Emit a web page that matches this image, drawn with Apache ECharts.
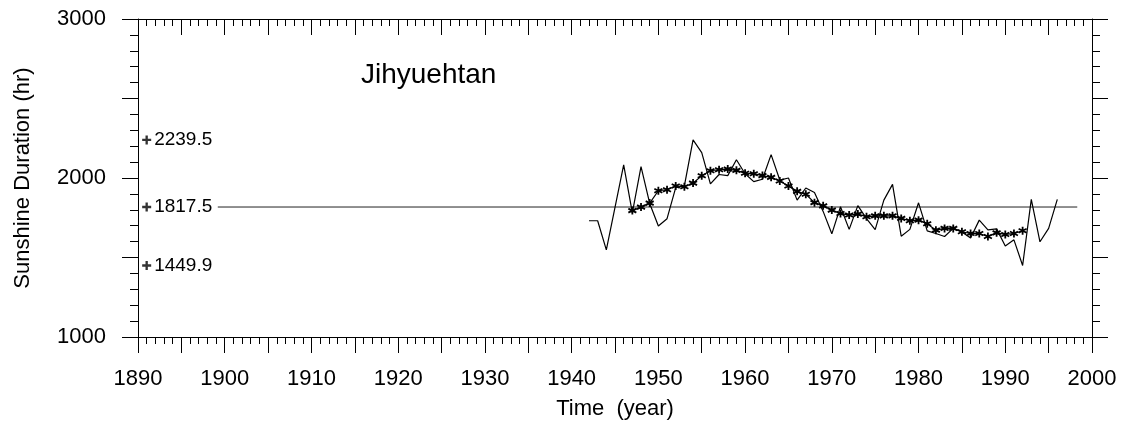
<!DOCTYPE html>
<html>
<head>
<meta charset="utf-8">
<script src="https://cdn.jsdelivr.net/npm/echarts@6/dist/echarts.min.js"></script>
<style>
html,body{margin:0;padding:0;background:#fff;}
#chart{width:1121px;height:428px;}
</style>
</head>
<body>
<div id="chart"></div>
<script>
// ---- data ----
const titleText = "Jihyuehtan";
const rawYears = [1942,1943,1944,1945,1946,1947,1948,1949,1950,1951,1952,1953,1954,1955,1956,1957,1958,1959,1960,1961,1962,1963,1964,1965,1966,1967,1968,1969,1970,1971,1972,1973,1974,1975,1976,1977,1978,1979,1980,1981,1982,1983,1984,1985,1986,1987,1988,1989,1990,1991,1992,1993,1994,1995,1996];
const rawValues = [1731,1731,1548,1815,2082,1780,2071,1840,1698,1744,1940,1950,2239.5,2160,1963,2022,2015,2115,2027,1977,1992,2147,1987,2000,1861,1937,1909,1790,1649,1819,1677,1826,1745,1675,1861,1960,1634,1677,1844,1667,1651,1632,1683,1660,1623,1735,1674,1680,1572,1611,1449.9,1866,1599,1683,1866];
const smoothYears = [1947,1948,1949,1950,1951,1952,1953,1954,1955,1956,1957,1958,1959,1960,1961,1962,1963,1964,1965,1966,1967,1968,1969,1970,1971,1972,1973,1974,1975,1976,1977,1978,1979,1980,1981,1982,1983,1984,1985,1986,1987,1988,1989,1990,1991,1992];
const smoothValues = [1795,1817,1842,1920,1926,1950,1945,1968,2014,2046,2052,2056,2048,2030,2027,2015,2004,1981,1950,1916,1898,1845,1825,1798,1777,1767,1773,1756,1762,1762,1762,1746,1731,1735,1712,1672,1683,1683,1662,1651,1651,1632,1655,1645,1651,1668];
const statYear = 1891;
const statValues = [2239.5, 1817.5, 1449.9];
const meanValue = 1817.5;
const meanLineYears = [1899.2, 1998.3];
const xTickLabels = [1890,1900,1910,1920,1930,1940,1950,1960,1970,1980,1990,2000];
const yTickLabels = [1000,2000,3000];

// ---- chart ----
const FONT = '"Liberation Sans", Arial, Helvetica, sans-serif';
const chart = echarts.init(document.getElementById('chart'), null, {renderer:'canvas'});

const rawData = rawYears.map((y,i)=>[y, rawValues[i]]);
const smoothData = smoothYears.map((y,i)=>[y, smoothValues[i]]);
const statData = statValues.map(v=>[statYear, v]);
const meanData = meanLineYears.map(y=>[y, meanValue]);

const asterisk = 'path://M5,0L5,10M0.67,2.5L9.33,7.5M0.67,7.5L9.33,2.5';
const plus = 'path://M3.7,0H6.3V3.7H10V6.3H6.3V10H3.7V6.3H0V3.7H3.7Z';

const axisLineStyle = {color:'#000', width:1};
function xAxisCfg(pos, inside, showLabel){
  return {
    type:'value', position:pos, min:1890, max:2000, interval:5,
    axisLine:{show:true, onZero:false, lineStyle:axisLineStyle},
    axisTick:{show:true, inside:inside, length:16, lineStyle:axisLineStyle},
    minorTick:{show:true, splitNumber:5, length:7, lineStyle:axisLineStyle},
    splitLine:{show:false},
    axisLabel:{show:showLabel, margin:31, fontSize:22, color:'#000', fontFamily:FONT,
      formatter:(v)=> xTickLabels.indexOf(v) >= 0 ? String(v) : ''},
  };
}
function yAxisCfg(pos, showLabel){
  return {
    type:'value', position:pos, min:1000, max:3000, interval:500,
    axisLine:{show:true, onZero:false, lineStyle:axisLineStyle},
    axisTick:{show:true, inside:false, length:16, lineStyle:axisLineStyle},
    minorTick:{show:true, splitNumber:5, length:8, lineStyle:axisLineStyle},
    splitLine:{show:false},
    axisLabel:{show:showLabel, margin:32, fontSize:22, color:'#000', fontFamily:FONT,
      formatter:(v)=> yTickLabels.indexOf(v) >= 0 ? String(v) : ''},
  };
}

const xBottom = xAxisCfg('bottom', false, true);
xBottom.name = 'Time  (year)';
xBottom.nameLocation = 'middle';
xBottom.nameGap = 61;
xBottom.nameTextStyle = {fontSize:22, color:'#000', fontFamily:FONT};
const xTop = xAxisCfg('top', true, false);

const yLeft = yAxisCfg('left', true);
yLeft.name = 'Sunshine Duration (hr)';
yLeft.nameLocation = 'middle';
yLeft.nameGap = 104;
yLeft.nameTextStyle = {fontSize:22, color:'#000', fontFamily:FONT};
const yRight = yAxisCfg('right', false);

chart.setOption({
  animation:false,
  backgroundColor:'#fff',
  title:{text:titleText, left:356, top:56, textStyle:{fontSize:28, fontWeight:'normal', color:'#000', fontFamily:FONT}},
  grid:{left:138, right:29, top:19, bottom:91, containLabel:false},
  xAxis:[xBottom, xTop],
  yAxis:[yLeft, yRight],
  series:[
    {type:'line', name:'mean', data:meanData, xAxisIndex:0, yAxisIndex:0, symbol:'none',
      lineStyle:{color:'#222', width:1}, silent:true},
    {type:'line', name:'annual', data:rawData, xAxisIndex:0, yAxisIndex:0, symbol:'none',
      lineStyle:{color:'#000', width:1.2}, silent:true},
    {type:'line', name:'smooth', data:smoothData, xAxisIndex:0, yAxisIndex:0,
      symbol:asterisk, symbolSize:8, showSymbol:true,
      itemStyle:{color:'#000', borderColor:'#000', borderWidth:1.8},
      lineStyle:{color:'#000', width:1.2}, silent:true},
    {type:'scatter', name:'stats', data:statData, xAxisIndex:0, yAxisIndex:0,
      symbol:plus, symbolSize:9, itemStyle:{color:'#000'},
      label:{show:true, position:'right', distance:3, fontSize:19, color:'#000', opacity:1,
        textBorderWidth:0, fontFamily:FONT,
        formatter:(p)=> p.value[1].toFixed(1)}, silent:true}
  ]
});
</script>
</body>
</html>
